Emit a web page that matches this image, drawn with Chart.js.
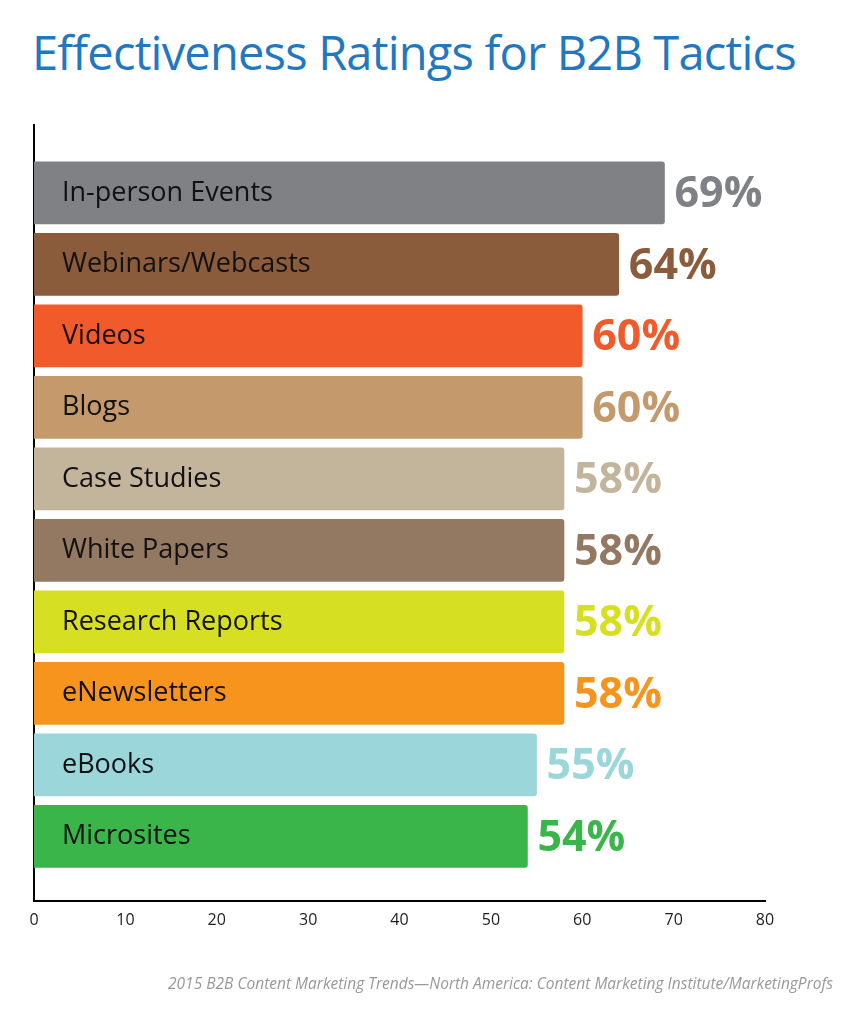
<!DOCTYPE html>
<html>
<head>
<meta charset="utf-8">
<script src="https://cdn.jsdelivr.net/npm/chart.js@4"></script>
<style>
  body { margin: 0; background: #fff; font-family: "Open Sans", sans-serif; }
  #wrap { position: relative; width: 867px; height: 1024px; }
  h1 { position: absolute; left: 32px; top: 20px; margin: 0; font-weight: 400; font-size: 47px; color: #1f78c1; letter-spacing: -0.8px; }
  #src { position: absolute; right: 34px; top: 972px; font-size: 15.5px; font-style: italic; color: #999; }
  canvas { position: absolute; left: 0; top: 0; }
</style>
</head>
<body>
<div id="wrap">
  <h1>Effectiveness Ratings for B2B Tactics</h1>
  <canvas id="chart" width="867" height="1024"></canvas>
  <div id="src">2015 B2B Content Marketing Trends—North America: Content Marketing Institute/MarketingProfs</div>
</div>
<script>
const tactics = ["In-person Events", "Webinars/Webcasts", "Videos", "Blogs", "Case Studies", "White Papers", "Research Reports", "eNewsletters", "eBooks", "Microsites"]
const ratings = [69, 64, 60, 60, 58, 58, 58, 58, 55, 54]
const colors = ["#808184", "#8b5c3b", "#f15a2b", "#c4996c", "#c2b59b", "#937862", "#d7df23", "#f7941e", "#9ad6da", "#39b54a"]
const xTicks = [0, 10, 20, 30, 40, 50, 60, 70, 80]

// labels inside bars and values after them
const barText = {
    id: 'barText',
    afterDatasetsDraw(chart) {
        const ctx = chart.ctx
        const x = chart.scales.x, y = chart.scales.y
        ctx.save()
        ctx.textBaseline = 'middle'
        tactics.forEach((name, i) => {
            const yc = y.getPixelForValue(i)
            ctx.fillStyle = '#111'
            ctx.font = '27px "Open Sans", sans-serif'
            ctx.textAlign = 'left'
            ctx.fillText(name, x.getPixelForValue(0) + 28, yc)
            ctx.fillStyle = colors[i]
            ctx.font = 'bold 43px "Open Sans", sans-serif'
            ctx.fillText(ratings[i] + '%', x.getPixelForValue(ratings[i]) + 10, yc + 2)
        })
        ctx.restore()
    }
}

new Chart(document.getElementById('chart'), {
    type: 'bar',
    data: {
        datasets: [{
            data: ratings.map((v, i) => ({ x: v, y: i })),
            backgroundColor: colors,
            barThickness: 62,
            borderRadius: 3,
            borderSkipped: 'start'
        }]
    },
    options: {
        indexAxis: 'y',
        responsive: false,
        animation: false,
        layout: { padding: { left: 26, right: 102, top: 125, bottom: 92 } },
        plugins: { legend: { display: false }, tooltip: { enabled: false } },
        scales: {
            x: {
                type: 'linear', min: 0, max: 80,
                afterBuildTicks: axis => { axis.ticks = xTicks.map(v => ({ value: v })) },
                grid: { display: false, drawTicks: true, tickLength: 8, color: '#000' },
                border: { color: '#000', width: 2 },
                ticks: { color: '#222', font: { size: 16, family: '"Open Sans", sans-serif' }, padding: 2 }
            },
            y: {
                type: 'linear', min: -0.95, max: 9.9, reverse: true, offset: false,
                grid: { display: false, offset: false },
                border: { color: '#000', width: 2 },
                ticks: { display: false }
            }
        }
    },
    plugins: [barText]
});
</script>
</body>
</html>
